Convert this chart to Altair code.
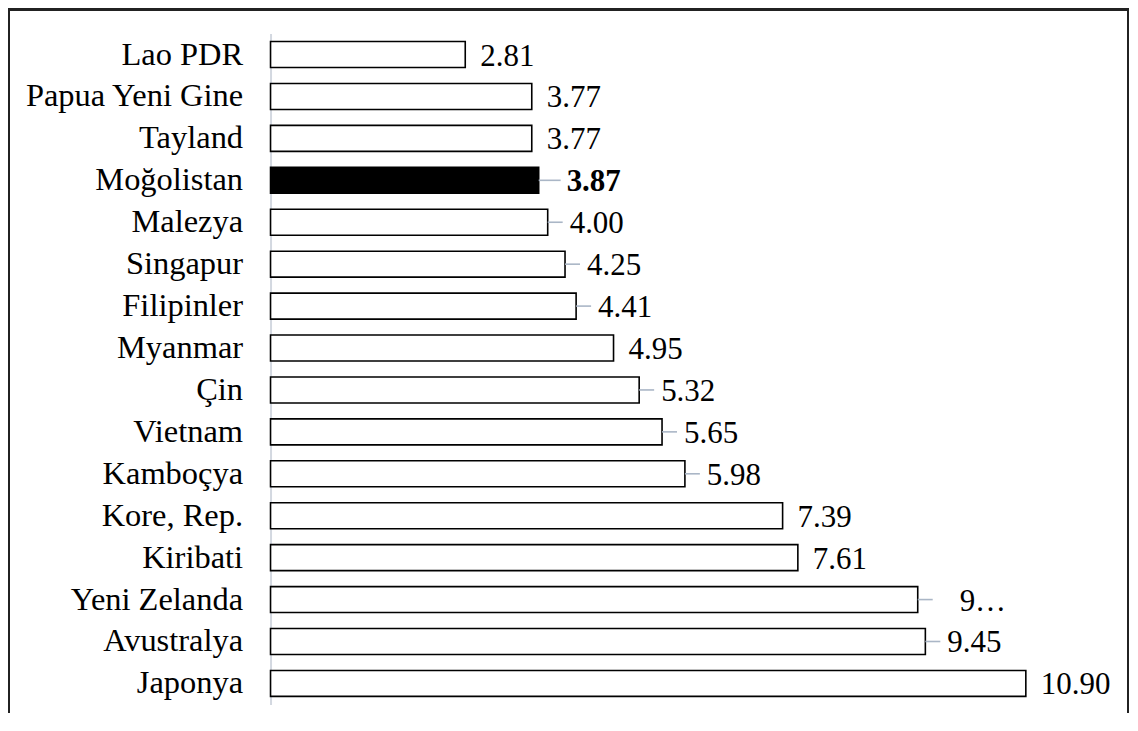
import altair as alt
import pandas as pd

countries = ["Lao PDR", "Papua Yeni Gine", "Tayland", "Moğolistan", "Malezya", "Singapur",
             "Filipinler", "Myanmar", "Çin", "Vietnam", "Kamboçya", "Kore, Rep.", "Kiribati",
             "Yeni Zelanda", "Avustralya", "Japonya"]
values = [2.81, 3.77, 3.77, 3.87, 4.00, 4.25, 4.41, 4.95, 5.32, 5.65, 5.98, 7.39, 7.61, 9.34, 9.45, 10.90]
labels = ["2.81", "3.77", "3.77", "3.87", "4.00", "4.25", "4.41", "4.95", "5.32", "5.65", "5.98",
          "7.39", "7.61", "9…", "9.45", "10.90"]
leader = [False, False, False, True, True, True, True, False, True, True, True, False, False,
          True, True, False]
highlight = ["Moğolistan"]

df = pd.DataFrame({
    "country": countries,
    "value": values,
    "label": labels,
    "leader": leader,
    "hl": [c in highlight for c in countries],
})

PX = 833 / 12.0  # pixels per unit

base = alt.Chart(df).transform_calculate(
    lead_end=f"datum.value + (datum.hl ? 22 : 15)/{PX}",
    lab_x=f"datum.value + (indexof(datum.label, '…') >= 0 ? 42 : (datum.hl ? 28 : (datum.leader ? 22 : 15)))/{PX}",
)

y = alt.Y("country:N", sort=countries,
          scale=alt.Scale(paddingInner=0.38, paddingOuter=0.19),
          axis=alt.Axis(title=None, ticks=False, domainColor="#d3d8e0", domainWidth=2,
                        labelFont="Liberation Serif", labelFontSize=32.5, labelColor="black",
                        labelPadding=28, labelLimit=500))
x = alt.X("value:Q", scale=alt.Scale(domain=[0, 12], nice=False, zero=True), axis=None)

bars = base.mark_bar(stroke="black", strokeWidth=1.6).encode(
    x=x, y=y,
    fill=alt.condition(alt.datum.hl, alt.value("black"), alt.value("white")),
)

leaders = base.transform_filter(alt.datum.leader).mark_rule(color="#aab6c6", strokeWidth=1.6).encode(
    x=alt.X("value:Q"), x2="lead_end:Q", y=alt.Y("country:N", sort=countries),
)

txt_normal = base.transform_filter(~alt.datum.hl).mark_text(
    align="left", baseline="middle", font="Liberation Serif", fontSize=31, color="black", dy=2
).encode(x=alt.X("lab_x:Q"), y=alt.Y("country:N", sort=countries), text="label:N")

txt_bold = base.transform_filter(alt.datum.hl).mark_text(
    align="left", baseline="middle", font="Liberation Serif", fontSize=31, color="black",
    fontWeight="bold", dy=2
).encode(x=alt.X("lab_x:Q"), y=alt.Y("country:N", sort=countries), text="label:N")

frame_left = alt.Chart(df).mark_rule(color="#222222", strokeWidth=2).encode(
    x=alt.value(-262), y=alt.value(-24), y2=alt.value(720))
frame_top = alt.Chart(df).mark_rule(color="#222222", strokeWidth=2).encode(
    x=alt.value(-263), x2=alt.value(860), y=alt.value(-24))
frame_right = alt.Chart(df).mark_rule(color="#222222", strokeWidth=2).encode(
    x=alt.value(859), y=alt.value(-25), y2=alt.value(720))

chart = alt.layer(bars, leaders, txt_normal, txt_bold, frame_left, frame_top, frame_right).properties(
    width=833, height=672,
    autosize=alt.AutoSizeParams(type="none"),
    padding={"left": 263, "top": 25, "right": 28, "bottom": 8},
).configure_view(stroke=None)

chart.save("out.html", embed_options={"renderer": "svg", "actions": False})
